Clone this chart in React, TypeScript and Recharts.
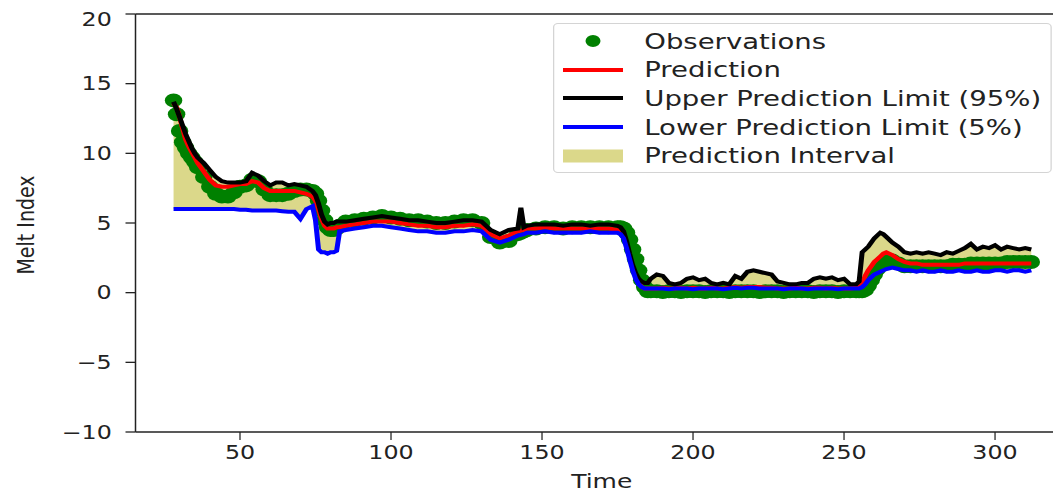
import { ComposedChart, Line, Area, Scatter, XAxis, YAxis, ReferenceLine } from "recharts";

// sample times (denser where the signal moves fast)
const time = [
  28, 29, 30, 31, 32, 33, 34, 35, 36,
  38, 40, 42, 44, 46, 48, 50, 52, 54, 56, 58, 60, 62, 64, 66, 68, 70, 72, 74,
  75, 76, 77, 78, 79, 80, 81, 82, 83,
  85, 88, 91, 94, 97, 100, 103, 106, 109, 112, 115, 118, 121, 124, 127, 130, 133, 136, 139, 142, 143, 144, 145, 148, 151, 154, 157, 160, 163, 166, 169, 172, 175,
  176, 177, 178, 179, 180, 181, 182, 183, 184, 185, 186,
  188, 190, 192, 194, 196, 198, 200, 202, 204, 206, 208, 210, 212, 214, 216, 218, 220, 222, 224, 226, 228, 230, 232, 234, 236, 238, 240, 242, 244, 246, 248, 250, 252, 254,
  255, 256, 257, 258, 259, 260, 261, 262, 263, 264,
  266, 268, 270, 272, 274, 276, 278, 280, 282, 284, 286, 288, 290, 292, 294, 296, 298, 300, 302, 304, 306, 308, 310, 312,
];

const observations = [
  13.8, 12.8, 11.6, 10.8, 10.4, 10.0, 9.7, 9.4, 9.0,
  8.3, 7.6, 7.1, 6.9, 6.9, 7.2, 7.6, 7.7, 8.1, 8.0, 7.4, 7.0, 7.0, 7.0, 7.1, 7.3, 7.4, 7.4, 7.3,
  7.1, 6.6, 5.9, 5.2, 4.7, 4.5, 4.5, 4.6, 4.8,
  5.1, 5.2, 5.3, 5.4, 5.5, 5.4, 5.3, 5.2, 5.2, 5.1, 5.0, 5.0, 5.1, 5.2, 5.2, 5.0, 4.0, 3.6, 3.7, 4.2, 4.3, 4.4, 4.5, 4.6, 4.7, 4.7, 4.6, 4.7, 4.7, 4.7, 4.7, 4.7, 4.7,
  4.7, 4.6, 4.3, 3.8, 3.1, 2.4, 1.6, 0.9, 0.4, 0.1, 0.1,
  0.1, 0.05, 0.1, 0.1, 0.05, 0.1, 0.1, 0.1, 0.05, 0.1, 0.1, 0.1, 0.05, 0.1, 0.1, 0.1, 0.1, 0.05, 0.1, 0.1, 0.1, 0.05, 0.1, 0.1, 0.1, 0.1, 0.05, 0.1, 0.1, 0.1, 0.05, 0.1, 0.1, 0.1,
  0.1, 0.1, 0.2, 0.5, 0.9, 1.3, 1.7, 2.0, 2.2, 2.3,
  2.3, 2.1, 1.9, 1.9, 1.9, 1.9, 1.9, 1.9, 1.9, 1.9, 2.0, 2.0, 2.0, 2.1, 2.1, 2.1, 2.1, 2.1, 2.1, 2.2, 2.2, 2.2, 2.2, 2.2,
];

const prediction = [
  13.6, 13.3, 12.6, 11.8, 11.0, 10.5, 10.1, 9.7, 9.3,
  8.7, 8.1, 7.7, 7.6, 7.6, 7.7, 7.8, 7.8, 8.0, 7.9, 7.5, 7.3, 7.3, 7.3, 7.3, 7.3, 7.2, 7.1, 6.9,
  6.6, 6.0, 5.3, 4.8, 4.6, 4.6, 4.6, 4.7, 4.7,
  4.8, 4.9, 5.0, 5.1, 5.1, 5.1, 5.0, 4.9, 4.8, 4.8, 4.7, 4.7, 4.8, 4.8, 4.9, 4.8, 4.2, 3.9, 4.1, 4.4, 4.45, 4.5, 4.6, 4.6, 4.7, 4.6, 4.6, 4.6, 4.6, 4.6, 4.6, 4.6, 4.5,
  4.5, 4.2, 3.5, 2.6, 1.8, 1.2, 0.7, 0.4, 0.3, 0.3, 0.3,
  0.3, 0.35, 0.3, 0.3, 0.35, 0.3, 0.35, 0.3, 0.3, 0.35, 0.3, 0.3, 0.35, 0.4, 0.35, 0.4, 0.4, 0.4, 0.35, 0.35, 0.3, 0.3, 0.3, 0.35, 0.3, 0.3, 0.35, 0.35, 0.3, 0.35, 0.3, 0.3, 0.3, 0.35,
  0.4, 0.6, 1.2, 1.6, 1.9, 2.2, 2.4, 2.6, 2.8, 2.9,
  2.7, 2.4, 2.2, 2.1, 2.1, 2.0, 2.0, 2.0, 2.0, 2.0, 2.0, 2.0, 2.1, 2.1, 2.1, 2.1, 2.1, 2.1, 2.1, 2.1, 2.1, 2.1, 2.1, 2.1,
];

const upperLimit = [
  13.7, 13.2, 12.6, 12.0, 11.4, 10.9, 10.4, 10.0, 9.7,
  9.3, 8.8, 8.3, 8.0, 7.9, 7.9, 7.9, 8.0, 8.6, 8.4, 8.0, 7.7, 7.9, 7.9, 7.7, 7.8, 7.7, 7.6, 7.3,
  7.0, 6.4, 5.6, 5.1, 4.9, 5.0, 5.0, 5.1, 5.1,
  5.1, 5.2, 5.3, 5.4, 5.5, 5.4, 5.3, 5.2, 5.2, 5.1, 5.0, 5.0, 5.1, 5.2, 5.2, 5.1, 4.5, 4.2, 4.5, 4.6, 6.1, 4.7, 4.8, 4.9, 4.9, 4.9, 4.8, 4.9, 4.9, 4.8, 4.9, 4.9, 4.8,
  4.7, 4.4, 3.7, 2.8, 2.0, 1.4, 1.0, 0.8, 0.7, 0.7, 1.0,
  1.3, 1.2, 0.7, 0.6, 0.7, 1.0, 1.1, 0.9, 1.0, 0.7, 0.6, 0.7, 0.6, 1.2, 1.0, 1.5, 1.6, 1.5, 1.4, 1.3, 0.8, 0.7, 0.6, 0.6, 0.7, 0.7, 1.0, 1.1, 1.0, 1.1, 0.9, 1.0, 0.6, 0.6,
  0.8, 2.9, 3.1, 3.3, 3.6, 3.9, 4.1, 4.3, 4.2, 4.0,
  3.6, 3.3, 2.9, 2.8, 2.9, 2.8, 2.9, 2.8, 2.7, 2.9, 2.8, 3.0, 3.2, 3.5, 3.1, 3.3, 3.2, 3.4, 3.1, 3.3, 3.2, 3.1, 3.2, 3.1,
];

const lowerLimit = [
  6.0, 6.0, 6.0, 6.0, 6.0, 6.0, 6.0, 6.0, 6.0,
  6.0, 6.0, 6.0, 6.0, 6.0, 6.0, 5.95, 5.95, 5.9, 5.9, 5.9, 5.9, 5.9, 5.85, 5.8, 5.8, 5.3, 6.0, 6.2,
  5.2, 3.1, 2.9, 2.9, 2.8, 2.9, 2.9, 3.0, 4.4,
  4.5, 4.6, 4.7, 4.8, 4.8, 4.7, 4.6, 4.5, 4.4, 4.4, 4.3, 4.3, 4.4, 4.4, 4.5, 4.4, 3.8, 3.6, 3.8, 4.1, 4.15, 4.2, 4.3, 4.3, 4.4, 4.3, 4.3, 4.3, 4.3, 4.4, 4.3, 4.3, 4.3,
  4.2, 3.9, 3.2, 2.4, 1.6, 1.0, 0.6, 0.4, 0.3, 0.3, 0.3,
  0.3, 0.3, 0.25, 0.3, 0.3, 0.3, 0.25, 0.3, 0.3, 0.3, 0.3, 0.25, 0.3, 0.35, 0.3, 0.35, 0.35, 0.3, 0.3, 0.3, 0.3, 0.25, 0.3, 0.3, 0.3, 0.25, 0.3, 0.3, 0.3, 0.3, 0.25, 0.3, 0.3, 0.3,
  0.3, 0.4, 0.6, 0.9, 1.1, 1.3, 1.4, 1.5, 1.6, 1.7,
  1.8, 1.7, 1.6, 1.6, 1.5, 1.6, 1.5, 1.5, 1.6, 1.5, 1.5, 1.6, 1.5, 1.5, 1.6, 1.5, 1.5, 1.6, 1.6, 1.5, 1.6, 1.6, 1.5, 1.6,
];

const xTicks = [50, 100, 150, 200, 250, 300];
const yTicks = [-10, -5, 0, 5, 10, 15, 20];

const data = time.map((t, i) => ({
  t,
  obs: observations[i],
  pred: prediction[i],
  upper: upperLimit[i],
  lower: lowerLimit[i],
  band: [lowerLimit[i], upperLimit[i]],
}));

const FONT = '"DejaVu Sans", sans-serif';
// the picture is stretched sideways, so the whole chart is too
const STRETCH = 1.25;
const FILL = "#dbd88a";

function ObsDot(props: any) {
  const { cx, cy } = props;
  if (cx == null || cy == null) return null;
  return <circle cx={cx} cy={cy} r={7} fill="#008000" />;
}

const legendItems = [
  { label: "Observations", kind: "dot", color: "#008000" },
  { label: "Prediction", kind: "line", color: "#ff0000" },
  { label: "Upper Prediction Limit (95%)", kind: "line", color: "#000000" },
  { label: "Lower Prediction Limit (5%)", kind: "line", color: "#0000ff" },
  { label: "Prediction Interval", kind: "patch", color: FILL },
];

function ChartLegend() {
  return (
    <div
      style={{
        position: "absolute",
        left: 436,
        top: 15,
        width: 399,
        height: 150,
        boxSizing: "border-box",
        border: "1px solid #d4d4d4",
        borderRadius: 4,
        background: "rgba(255,255,255,0.85)",
      }}
    >
      {legendItems.map((item, i) => (
        <div
          key={item.label}
          style={{
            position: "absolute",
            left: 0,
            top: 3 + i * 28.6,
            height: 28.6,
            display: "flex",
            alignItems: "center",
          }}
        >
          <svg width={48} height={20} style={{ marginLeft: 7 }}>
            {item.kind === "dot" && <circle cx={24} cy={10} r={6} fill={item.color} />}
            {item.kind === "line" && <line x1={0} x2={48} y1={10} y2={10} stroke={item.color} strokeWidth={4} />}
            {item.kind === "patch" && <rect x={0} y={3.5} width={48} height={13} fill={item.color} />}
          </svg>
          <span style={{ marginLeft: 17, fontSize: 22, color: "#222", whiteSpace: "nowrap" }}>{item.label}</span>
        </div>
      ))}
    </div>
  );
}

export default function App() {
  return (
    <div style={{ width: 1053, height: 484, overflow: "hidden" }}>
      <div
        style={{
          position: "relative",
          width: 851,
          height: 484,
          transform: `scaleX(${STRETCH})`,
          transformOrigin: "0 0",
          fontFamily: FONT,
        }}
      >
        <ComposedChart width={851} height={484} data={data} margin={{ top: 6, right: 0, bottom: 10, left: 0 }}>
          <XAxis
            dataKey="t"
            type="number"
            domain={[15.4, 325.4]}
            ticks={xTicks}
            allowDataOverflow
            height={50}
            tickSize={8}
            tickMargin={6}
            axisLine={{ stroke: "#222", strokeWidth: 1.3 }}
            tickLine={{ stroke: "#222", strokeWidth: 1 }}
            tick={{ fill: "#222", fontSize: 19, fontFamily: FONT }}
          />
          <YAxis
            type="number"
            domain={[-10, 20]}
            ticks={yTicks}
            width={102}
            tickSize={8}
            tickMargin={11}
            axisLine={{ stroke: "#222", strokeWidth: 1.2 }}
            tickLine={{ stroke: "#222", strokeWidth: 1.3 }}
            tick={{ fill: "#222", fontSize: 19, fontFamily: FONT }}
            tickFormatter={(v: number) => (v < 0 ? `\u2212${Math.abs(v)}` : `${v}`)}
          />
          <ReferenceLine y={20} stroke="#222" strokeWidth={1.3} />
          <Area
            type="linear"
            dataKey="band"
            stroke="none"
            fill={FILL}
            fillOpacity={1}
            isAnimationActive={false}
          />
          <Scatter dataKey="obs" shape={<ObsDot />} zIndex={350} isAnimationActive={false} />
          <Line type="linear" dataKey="pred" stroke="#ff0000" strokeWidth={4} dot={false} isAnimationActive={false} />
          <Line type="linear" dataKey="upper" stroke="#000000" strokeWidth={4} dot={false} isAnimationActive={false} />
          <Line type="linear" dataKey="lower" stroke="#0000ff" strokeWidth={4} dot={false} isAnimationActive={false} />
        </ComposedChart>

        <ChartLegend />

        <div
          style={{
            position: "absolute",
            left: 13.6,
            top: 217,
            transform: "translate(-50%, -50%) rotate(-90deg)",
            fontSize: 19,
            color: "#222",
            whiteSpace: "nowrap",
          }}
        >
          Melt Index
        </div>
        <div
          style={{
            position: "absolute",
            left: 475,
            top: 461,
            transform: "translateX(-50%)",
            fontSize: 20,
            color: "#222",
            whiteSpace: "nowrap",
          }}
        >
          Time
        </div>
      </div>
    </div>
  );
}
